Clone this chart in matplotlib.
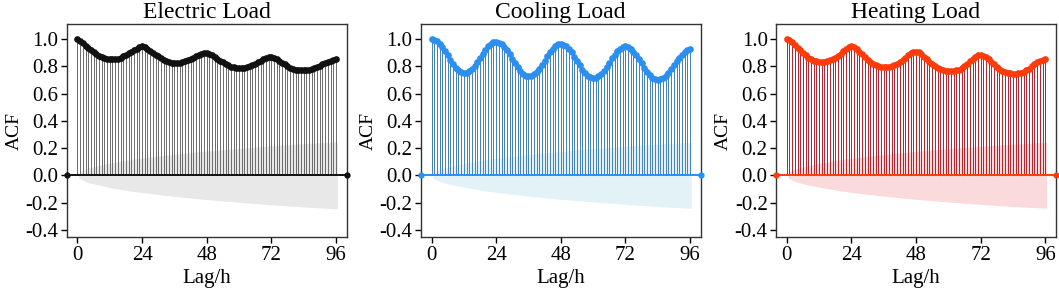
import numpy as np
import matplotlib.pyplot as plt

plt.rcParams['font.family'] = ['Liberation Serif', 'DejaVu Serif']

lags = list(range(97))

electric_acf = [
    1.000, 0.985, 0.968, 0.952, 0.936, 0.920, 0.905, 0.890, 0.877, 0.866,
    0.858, 0.853, 0.851, 0.851, 0.852, 0.855, 0.862, 0.872, 0.884, 0.896,
    0.907, 0.918, 0.929, 0.940, 0.947, 0.940, 0.928, 0.914, 0.900, 0.886,
    0.872, 0.858, 0.845, 0.835, 0.828, 0.824, 0.823, 0.823, 0.824, 0.828,
    0.835, 0.845, 0.855, 0.864, 0.873, 0.881, 0.888, 0.894, 0.897, 0.891,
    0.880, 0.868, 0.855, 0.842, 0.829, 0.817, 0.806, 0.798, 0.792, 0.789,
    0.788, 0.788, 0.789, 0.793, 0.800, 0.810, 0.820, 0.830, 0.840, 0.850,
    0.858, 0.865, 0.868, 0.862, 0.851, 0.839, 0.826, 0.813, 0.801, 0.790,
    0.781, 0.775, 0.771, 0.769, 0.769, 0.770, 0.773, 0.779, 0.787, 0.796,
    0.805, 0.814, 0.823, 0.832, 0.840, 0.847, 0.852,
]

cooling_acf = [
    1.000, 0.996, 0.985, 0.967, 0.944, 0.915, 0.881, 0.848, 0.816, 0.789,
    0.769, 0.756, 0.751, 0.754, 0.764, 0.781, 0.804, 0.831, 0.862, 0.893,
    0.922, 0.947, 0.965, 0.976, 0.979, 0.974, 0.961, 0.942, 0.917, 0.887,
    0.855, 0.822, 0.792, 0.766, 0.745, 0.732, 0.727, 0.730, 0.740, 0.757,
    0.781, 0.809, 0.840, 0.872, 0.902, 0.928, 0.948, 0.960, 0.964, 0.959,
    0.946, 0.926, 0.901, 0.871, 0.839, 0.806, 0.776, 0.750, 0.730, 0.718,
    0.714, 0.717, 0.727, 0.744, 0.767, 0.795, 0.826, 0.857, 0.886, 0.911,
    0.930, 0.941, 0.945, 0.940, 0.927, 0.907, 0.882, 0.853, 0.822, 0.790,
    0.760, 0.735, 0.716, 0.705, 0.701, 0.704, 0.713, 0.729, 0.751, 0.777,
    0.806, 0.835, 0.862, 0.885, 0.903, 0.916, 0.924,
]

heating_acf = [
    1.000, 0.990, 0.975, 0.957, 0.937, 0.917, 0.897, 0.879, 0.864, 0.851,
    0.842, 0.837, 0.834, 0.833, 0.834, 0.837, 0.843, 0.852, 0.863, 0.877,
    0.893, 0.910, 0.927, 0.941, 0.946, 0.940, 0.926, 0.908, 0.888, 0.868,
    0.849, 0.832, 0.818, 0.807, 0.799, 0.795, 0.793, 0.793, 0.795, 0.799,
    0.806, 0.817, 0.831, 0.847, 0.864, 0.881, 0.895, 0.904, 0.907, 0.901,
    0.888, 0.871, 0.852, 0.833, 0.815, 0.800, 0.787, 0.777, 0.770, 0.765,
    0.763, 0.763, 0.765, 0.769, 0.776, 0.787, 0.801, 0.818, 0.836, 0.854,
    0.869, 0.879, 0.883, 0.878, 0.866, 0.850, 0.832, 0.813, 0.795, 0.779,
    0.766, 0.757, 0.751, 0.747, 0.746, 0.746, 0.748, 0.752, 0.759, 0.769,
    0.783, 0.799, 0.815, 0.830, 0.841, 0.849, 0.854,
]

# confidence band half-width (95%), sampled at a few lags
band_lags = [0.5, 2, 3, 4, 6, 8, 12, 16, 20, 24, 32, 40, 48, 56, 64, 72, 80, 88, 96.5]
electric_band = [0.021, 0.036, 0.045, 0.052, 0.063, 0.072, 0.089, 0.103, 0.116, 0.127,
                 0.146, 0.163, 0.178, 0.191, 0.204, 0.216, 0.227, 0.237, 0.246]
cooling_band = [0.021, 0.035, 0.044, 0.051, 0.062, 0.071, 0.087, 0.101, 0.114, 0.125,
                0.144, 0.161, 0.176, 0.189, 0.201, 0.213, 0.224, 0.233, 0.242]
heating_band = [0.021, 0.035, 0.044, 0.051, 0.062, 0.071, 0.087, 0.101, 0.114, 0.125,
                0.144, 0.161, 0.176, 0.189, 0.201, 0.213, 0.224, 0.233, 0.242]

titles = ['Electric Load', 'Cooling Load', 'Heating Load']
series = [electric_acf, cooling_acf, heating_acf]
bands = [electric_band, cooling_band, heating_band]
stem_colors = ['#6a6a6a', '#3f7fbf', '#b5202e']
marker_colors = ['#111111', '#2b8ff0', '#ff3b0a']
band_colors = ['#e8e8e8', '#e3f2f6', '#fadada']

fig = plt.figure(figsize=(10.59, 2.9), dpi=100)
lefts = [0.063, 0.3973, 0.7328]

for i in range(3):
    ax = fig.add_axes([lefts[i], 0.1817, 0.2644, 0.7355])
    b = np.array(bands[i])
    ax.fill_between(band_lags, -b, b, color=band_colors[i], linewidth=0, zorder=1)
    ax.vlines(lags, 0, series[i], color=stem_colors[i], linewidth=0.7, zorder=2)
    ax.axhline(0, color=marker_colors[i], linewidth=1.4, marker='o', markersize=3.5,
               zorder=3, clip_on=False)
    ax.plot(lags, series[i], linestyle='None', marker='o', markersize=3.8,
            color=marker_colors[i], zorder=4)
    ax.set_xlim(-4, 100)
    ax.set_ylim(-0.455, 1.11)
    ax.set_xticks([0, 24, 48, 72, 96])
    yt = [-0.4, -0.2, 0.0, 0.2, 0.4, 0.6, 0.8, 1.0]
    ax.set_yticks(yt)
    ax.set_yticklabels(['%.1f' % v for v in yt])
    ax.tick_params(labelsize=15, length=4, width=1, pad=2)
    ax.set_title(titles[i], fontsize=17, pad=4)
    ax.set_xlabel('Lag/h', fontsize=15, labelpad=3)
    ax.set_ylabel('ACF', fontsize=14, labelpad=2)
    for s in ax.spines.values():
        s.set_color('#333333')
        s.set_linewidth(1)

fig.savefig('out.png', dpi=100)
